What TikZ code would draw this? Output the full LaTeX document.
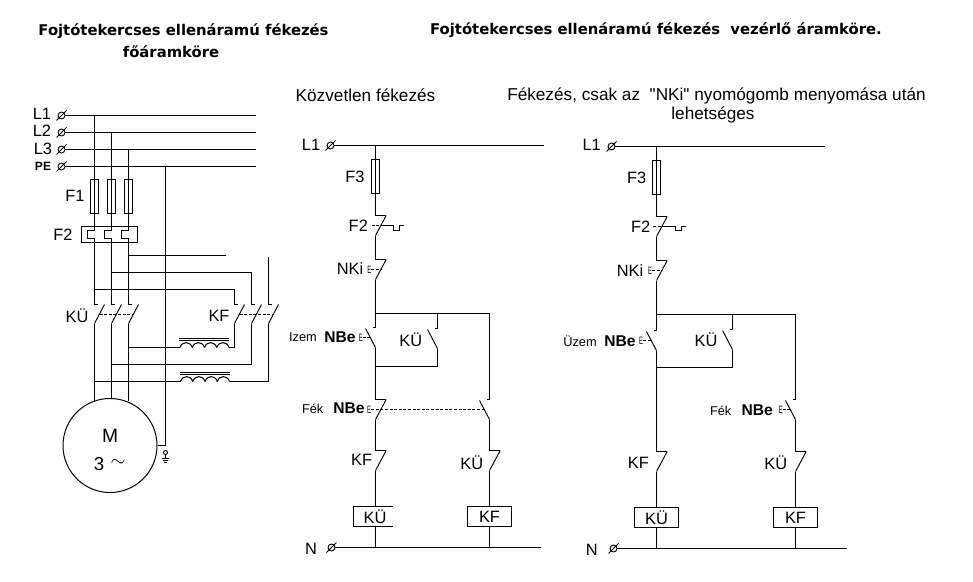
\documentclass[tikz,border=0pt]{standalone}
\usepackage{fontspec}
\setmainfont[Ligatures=TeXOff]{Liberation Sans}
\newfontfamily\headfont{DejaVu Sans}
\tikzset{
  wire/.style={line width=0.75pt},
  blade/.style={line width=0.7pt},
  link/.style={line width=0.65pt,dash pattern=on 2.25pt off 1.2pt},
  lab/.style={inner sep=0pt,font=\fontsize{12.3}{13}\selectfont},
  boldlab/.style={inner sep=0pt,font=\fontsize{11.7}{13}\selectfont\bfseries},
  smalllab/.style={inner sep=0pt,font=\fontsize{9.6}{11}\selectfont},
  head/.style={inner sep=0pt,font=\fontsize{11.1}{13}\selectfont\headfont\bfseries},
  subhead/.style={inner sep=0pt,font=\fontsize{12.9}{14}\selectfont},
  pushbtn/.style={inner sep=0pt,xscale=.55,font=\fontsize{8}{9}\selectfont},
  term/.style={circle,draw,line width=0.7pt,inner sep=0pt,minimum size=5.2pt,
    append after command={(\tikzlastnode.center) ++(-5,5) edge[blade] ++(10,-10)}},
  fuse/.style={draw,wire,inner sep=0pt,minimum width=6pt,minimum height=25.5pt},
  coilbox/.style={inner sep=0pt,minimum width=33pt,minimum height=15pt,font=\fontsize{12.3}{13}\selectfont},
  pics/ncpic/.style={code={
    \coordinate (-top) at (0,0);
    \coordinate (-bot) at (0,20);
    \coordinate (-mid) at (5.3,10);
    \draw[wire] (-top) -- (10.7,0);
    \draw[blade] (10.7,0) -- (-bot);
  }},
  pics/nopic/.style={code={
    \coordinate (-top) at (0,0);
    \coordinate (-bot) at (0,20);
    \coordinate (-mid) at (-5,10);
    \draw[wire] (-top) -- (-3,0);
    \draw[blade] (-10,1) -- (-bot);
  }},
  pics/mainpic/.style={code={
    \coordinate (-top) at (0,0);
    \coordinate (-bot) at (0,19);
    \coordinate (-mid) at (5,10);
    \draw[wire] (-top) -- (3,0);
    \draw[blade] (10,0) -- (-bot);
  }},
  pics/bimetal/.style={code={
    \coordinate (-in) at (0,0);
    \coordinate (-out) at (0,8);
    \draw[wire] (-in) -- (-7,0) -- (-7,8) -- (-out);
  }},
  pics/choke/.style={code={
    \coordinate (-in) at (0,0);
    \coordinate (-out) at (49,0);
    \foreach \k in {0,12.25,24.5,36.75}
      \draw[wire] (\k,0) .. controls (\k+2,-6.5) and (\k+10.25,-6.5) .. (\k+12.25,0);
    \draw[blade] (-1,-9) -- (49,-9);
    \draw[blade] (-1,-7) -- (49,-7);
  }}
}
\begin{document}
\begin{tikzpicture}[x=0.75pt,y=-0.75pt]
  \useasboundingbox (0,0) rectangle (973,581);
  % titles
  \node[head] (titlemain) at (183.5,31) {Fojtótekercses ellenáramú fékezés};
  \node[head] (titlemaintwo) at (171,52) {főáramköre};
  \node[head] (titlectrl) at (656,30) {Fojtótekercses ellenáramú fékezés\ \ vezérlő áramköre.};
  \node[subhead] (subdirect) at (365.5,95) {Közvetlen fékezés};
  \node[subhead] (subbutton) at (716.5,96) {Fékezés, csak az\ \ "NKi" nyomógomb menyomása után};
  \node[subhead] (subbuttontwo) at (713,115) {lehetséges};

  % main circuit
  \node[lab] (la) at (42,114) {L1};
  \node[lab] (lb) at (42,131) {L2};
  \node[lab] (lc) at (43,149) {L3};
  \node[boldlab,font=\fontsize{9}{10}\selectfont\bfseries] (lpe) at (43,166) {PE};
  \foreach \ph/\yb in {a/115.5,b/132.5,c/149.5,pe/166.5} {
    \node[term] (t\ph) at (61.5,\yb) {};
    \coordinate (e\ph) at (256,\yb);
    \draw[wire] (t\ph) -- (e\ph);
  }
  \node[lab] (fone) at (75,196) {F1};
  \node[lab] (ftwo) at (63,235) {F2};
  \node[draw,wire,inner sep=0pt,minimum width=42pt,minimum height=12pt] (ftwobox) at (109.5,234.5) {};
  \foreach \ph/\xp/\yb in {a/94.5/115.5,b/111.5/132.5,c/128.5/149.5} {
    \node[fuse] (f\ph) at (\xp,196.5) {};
    \pic (bi\ph) at (\xp,230.5) {bimetal};
    \pic (k\ph) at (\xp,304.5) {mainpic};
    \draw[wire] (\xp,\yb) -- (f\ph.center) -- (bi\ph-in);
    \draw[wire] (bi\ph-out) -- (k\ph-top);
  }
  \node[lab] (kulab) at (77,316) {KÜ};
  \node[lab] (kflab) at (219,316) {KF};
  \pic (kfa) at (234.5,304.5) {mainpic};
  \pic (kfb) at (251.5,304.5) {mainpic};
  \pic (kfc) at (268.5,304.5) {mainpic};
  \draw[link] (ka-mid) -- (kc-mid);
  \draw[link] (kfa-mid) -- (kfc-mid);
  % feeds of the KF contacts
  \coordinate (nc) at (128.5,255.5);
  \coordinate (nb) at (111.5,272.5);
  \coordinate (na) at (94.5,289.5);
  \coordinate (endc) at (225.7,255.5);
  \coordinate (topc) at (268.5,257);
  \draw[wire] (nc) -- (endc);
  \draw[wire] (nb) -| (kfb-top);
  \draw[wire] (na) -| (kfa-top);
  \draw[wire] (topc) -- (kfc-top);
  % chokes
  \pic (chokea) at (180,347.5) {choke};
  \pic (chokeb) at (180.5,381.5) {choke};
  \draw[wire] (chokea-in) -- (chokea-in -| kc-bot);
  \draw[wire] (chokea-out) -| (kfa-bot);
  \draw[wire] (chokeb-in) -- (chokeb-in -| ka-bot);
  \draw[wire] (chokeb-out) -| (kfc-bot);
  \coordinate (nm) at (111.5,364.5);
  \draw[wire] (nm) -| (kfb-bot);
  % motor
  \node[circle,draw,wire,inner sep=0pt,minimum size=70.5pt] (motor) at (110,445.5) {};
  \node[lab,font=\fontsize{14.4}{15}\selectfont] (mlab) at (110,436) {M};
  \node[lab,font=\fontsize{14}{15}\selectfont] (mthree) at (99,464) {3};
  \node[lab,font=\fontsize{15}{16}\selectfont] (mtilde) at (118,463) {$\sim$};
  \draw[wire] (ka-bot) -- (ka-bot |- motor.110);
  \draw[wire] (kb-bot) -- (kb-bot |- motor.88);
  \draw[wire] (kc-bot) -- (kc-bot |- motor.68);
  \coordinate (pedrop) at (165.5,166.5);
  \draw[wire] (pedrop) |- (motor.east);
  \node[circle,draw,blade,inner sep=0pt,minimum size=3pt] (gnd) at (165.5,452.5) {};
  \coordinate (gndb) at (165.5,458.5);
  \draw[blade] (gnd) -- (gndb);
  \draw[blade] (162,458.5) -- (169,458.5);
  \draw[blade] (163,460.5) -- (168,460.5);
  \draw[blade] (164,462.5) -- (167,462.5);

  % control circuit, direct braking
  \node[lab] (mlone) at (311,145) {L1};
  \node[term] (mtone) at (330.5,145.5) {};
  \coordinate (meone) at (544,145.5);
  \draw[wire] (mtone) -- (meone);
  \node[fuse] (mfuse) at (375.5,176.5) {};
  \node[lab] (mfthree) at (355,177.3) {F3};
  \pic (mftwoc) at (375.5,215.5) {ncpic};
  \node[lab] (mftwo) at (358.3,225.7) {F2};
  \pic (mnki) at (375.5,259.5) {ncpic};
  \node[lab] (mnkilab) at (350,269) {NKi};
  \node[pushbtn] (mnkibtn) at (369.3,269.5) {E};
  \coordinate (mtop) at (375.5,313.5);
  \coordinate (mright) at (489.5,313.5);
  \pic (mnbe) at (375.5,327.5) {nopic};
  \node[boldlab] (mnbelab) at (340,337.5) {NBe};
  \node[smalllab] (muzem) at (303,337.5) {Izem};
  \node[pushbtn] (mnbebtn) at (360.7,337.5) {E};
  \pic (mku) at (437.5,328.5) {nopic};
  \node[lab] (mkulab) at (410.7,340) {KÜ};
  \coordinate (mjoin) at (375.5,366.5);
  \pic (mfek) at (375.5,399.5) {ncpic};
  \node[boldlab] (mfeklab) at (349,408.7) {NBe};
  \node[smalllab] (mfektext) at (312.7,408.7) {Fék};
  \node[pushbtn] (mfekbtn) at (369,409.5) {E};
  \pic (mfekr) at (489.5,399.5) {nopic};
  \pic (mkf) at (375.5,450.5) {ncpic};
  \node[lab] (mkflab) at (361.7,460) {KF};
  \pic (mkur) at (489.5,450.5) {ncpic};
  \node[lab] (mkurlab) at (471.7,462.3) {KÜ};
  \node[coilbox,minimum width=29.25pt] (mcku) at (373,516.5) {\hspace*{3pt}KÜ};
  \node[draw,wire,coilbox] (mckf) at (489.5,516.5) {KF};
  \draw[wire] (mcku.north east) -- (mcku.north west) -- (mcku.south west) -- (mcku.south east);
  \node[lab] (mn) at (311,549) {N};
  \node[term] (mtn) at (331.5,547.5) {};
  \coordinate (men) at (540.7,547.5);
  \draw[wire] (mtn) -- (men);
  \draw[wire] (mfuse |- mtone) -- (mfuse.center) -- (mftwoc-top);
  \draw[wire] (mftwoc-bot) -- (mnki-top);
  \draw[wire] (mnki-bot) -- (mnbe-top);
  \draw[wire] (mnbe-bot) -- (mfek-top);
  \draw[wire] (mfek-bot) -- (mkf-top);
  \draw[wire] (mkf-bot) -- (mkf-bot |- mcku.north);
  \draw[wire] (mkf-bot |- mcku.south) -- (mkf-bot |- mtn);
  \draw[wire] (mtop) -- (mright) -- (mfekr-top);
  \draw[wire] (mku-top |- mtop) -- (mku-top);
  \draw[wire] (mku-bot) |- (mjoin);
  \draw[wire] (mfekr-bot) -- (mkur-top);
  \draw[wire] (mkur-bot) -- (mckf.north);
  \draw[wire] (mckf.south) -- (mckf.south |- mtn);
  \draw[link] (mnkibtn) -- (mnki-mid);
  \draw[link] (mnbebtn) -- (mnbe-mid);
  \draw[link] (mfekbtn) -- (mfekr-mid);
  % thermal trip
  \draw[link] (371.7,225.5) -- (mftwoc-mid);
  \draw[wire] (mftwoc-mid) -- (393.5,225.5) -- (393.5,230.5) -- (399.5,230.5) -- (399.5,225.5) -- (404,225.5);

  % control circuit, braking after NKi
  \node[lab] (rlone) at (591.7,145.3) {L1};
  \node[term] (rtone) at (611.5,146.5) {};
  \coordinate (reone) at (825,146.5);
  \draw[wire] (rtone) -- (reone);
  \node[fuse] (rfuse) at (656.5,177.5) {};
  \node[lab] (rfthree) at (636.7,178.3) {F3};
  \pic (rftwoc) at (656.5,216.5) {ncpic};
  \node[lab] (rftwo) at (640.7,226.7) {F2};
  \pic (rnki) at (656.5,260.5) {ncpic};
  \node[lab] (rnkilab) at (630,270.7) {NKi};
  \node[pushbtn] (rnkibtn) at (650,270.5) {E};
  \coordinate (rtop) at (656.5,314.5);
  \coordinate (rright) at (795.5,314.5);
  \pic (rnbe) at (656.5,330.5) {nopic};
  \node[boldlab] (rnbelab) at (620,341.7) {NBe};
  \node[smalllab] (ruzem) at (580,341.7) {Üzem};
  \node[pushbtn] (rnbebtn) at (641,340.5) {E};
  \pic (rku) at (732.5,329.5) {nopic};
  \node[lab] (rkulab) at (706,339.3) {KÜ};
  \coordinate (rjoin) at (656.5,367.5);
  \pic (rfek) at (795.5,399.5) {nopic};
  \node[boldlab] (rfeklab) at (757.3,410.7) {NBe};
  \node[smalllab] (rfektext) at (720.7,410.7) {Fék};
  \node[pushbtn] (rfekbtn) at (780.7,409.5) {E};
  \pic (rkf) at (656.5,451.5) {ncpic};
  \node[lab] (rkflab) at (638.3,462.7) {KF};
  \pic (rkur) at (795.5,451.5) {ncpic};
  \node[lab] (rkurlab) at (775.7,462.7) {KÜ};
  \node[draw,wire,coilbox] (rcku) at (656.5,517.5) {KÜ};
  \node[draw,wire,coilbox] (rckf) at (795.5,517.5) {KF};
  \node[lab] (rn) at (591.7,550) {N};
  \node[term] (rtn) at (613.5,548.5) {};
  \coordinate (ren) at (846.7,548.5);
  \draw[wire] (rtn) -- (ren);
  \draw[wire] (rfuse |- rtone) -- (rfuse.center) -- (rftwoc-top);
  \draw[wire] (rftwoc-bot) -- (rnki-top);
  \draw[wire] (rnki-bot) -- (rnbe-top);
  \draw[wire] (rnbe-bot) -- (rkf-top);
  \draw[wire] (rkf-bot) -- (rcku.north);
  \draw[wire] (rcku.south) -- (rcku.south |- rtn);
  \draw[wire] (rtop) -- (rright) -- (rfek-top);
  \draw[wire] (rku-top |- rtop) -- (rku-top);
  \draw[wire] (rku-bot) |- (rjoin);
  \draw[wire] (rfek-bot) -- (rkur-top);
  \draw[wire] (rkur-bot) -- (rckf.north);
  \draw[wire] (rckf.south) -- (rckf.south |- rtn);
  \draw[link] (rnkibtn) -- (rnki-mid);
  \draw[link] (rnbebtn) -- (rnbe-mid);
  \draw[link] (rfekbtn) -- (rfek-mid);
  % thermal trip
  \draw[link] (653.3,226.5) -- (rftwoc-mid);
  \draw[wire] (rftwoc-mid) -- (675.5,226.5) -- (675.5,230.5) -- (681.5,230.5) -- (681.5,226.5) -- (686,226.5);
\end{tikzpicture}
\end{document}
